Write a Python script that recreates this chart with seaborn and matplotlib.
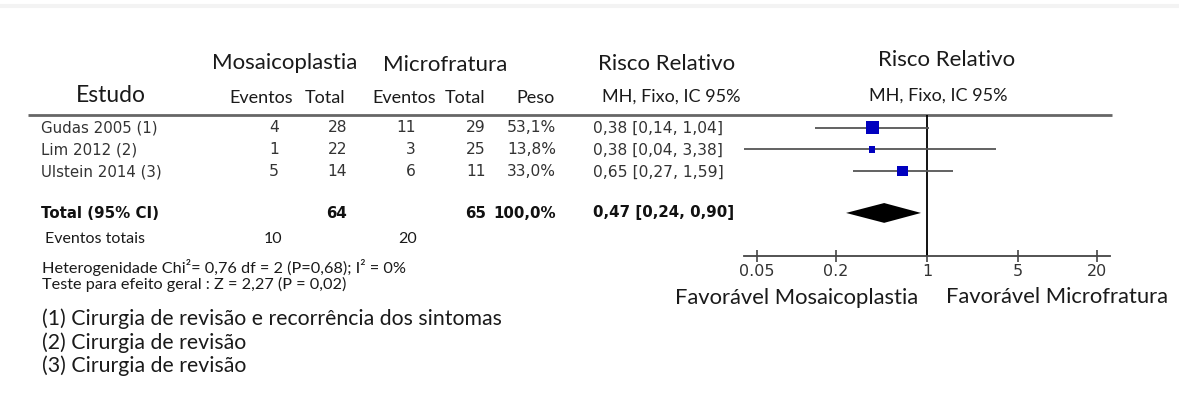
import numpy as np
import pandas as pd
import matplotlib
matplotlib.use("Agg")
import matplotlib.pyplot as plt
import seaborn as sns

sns.set_theme(style="white")
plt.rcParams["font.family"] = ["DejaVu Sans"]

# ---- data -------------------------------------------------------------
studies = ["Gudas 2005 (1)", "Lim 2012 (2)", "Ulstein 2014 (3)"]
mosaic_events = [4, 1, 5]
mosaic_total = [28, 22, 14]
micro_events = [11, 3, 6]
micro_total = [29, 25, 11]
weights = [53.1, 13.8, 33.0]
rr = [0.38, 0.38, 0.65]
ci_low = [0.14, 0.04, 0.27]
ci_high = [1.04, 3.38, 1.59]

total_mosaic = 64
total_micro = 65
total_weight = 100.0
total_rr = 0.47
total_low = 0.24
total_high = 0.90
events_mosaic_sum = 10
events_micro_sum = 20

ticks = [0.05, 0.2, 1, 5, 20]
tick_labels = ["0.05", "0.2", "1", "5", "20"]

footnotes = [
    "(1) Cirurgia de revisão e recorrência dos sintomas",
    "(2) Cirurgia de revisão",
    "(3) Cirurgia de revisão",
]
heterogeneity = "Heterogenidade Chi²= 0,76 df = 2 (P=0,68); I² = 0%"
overall_test = "Teste para efeito geral : Z = 2,27 (P = 0,02)"


def pct(v):
    return f"{v:.1f}".replace(".", ",") + "%"


def ci_text(m, lo, hi):
    f = lambda v: f"{v:.2f}".replace(".", ",")
    return f"{f(m)} [{f(lo)}, {f(hi)}]"


# ---- figure -------------------------------------------------------------
W, H = 1179, 400
fig = plt.figure(figsize=(W / 100, H / 100), dpi=100)
fig.patch.set_facecolor("white")

# text layer in pixel units
tx = fig.add_axes([0, 0, 1, 1])
tx.set_xlim(0, W)
tx.set_ylim(H, 0)
tx.axis("off")

HEAD = ["Lato", "DejaVu Sans"]
BODY = ["DejaVu Sans"]
ink = "#1a1a1a"
body_ink = "#333333"

# faint rule at the very top
tx.plot([0, W], [6, 6], color="#f3f3f3", lw=3)

# column headings
big = dict(va="center", fontsize=16, family=HEAD, color=ink)
tx.text(285, 63, "Mosaicoplastia", ha="center", **big)
tx.text(445, 65, "Microfratura", ha="center", **big)
tx.text(667, 64, "Risco Relativo", ha="center", **big)
tx.text(947, 60, "Risco Relativo", ha="center", **big)
tx.text(111, 96, "Estudo", ha="center", va="center", fontsize=16.5, family=HEAD, color=ink)

sub = dict(va="center", fontsize=13, family=HEAD, color=ink)
tx.text(261, 98, "Eventos", ha="center", **sub)
tx.text(325, 98, "Total", ha="center", **sub)
tx.text(404, 98, "Eventos", ha="center", **sub)
tx.text(465, 98, "Total", ha="center", **sub)
tx.text(535, 98, "Peso", ha="center", **sub)
tx.text(671, 97, "MH, Fixo, IC 95%", ha="center", **sub)
tx.text(938, 96, "MH, Fixo, IC 95%", ha="center", **sub)

# heading rule
tx.plot([28, 1112], [115, 115], color="#666666", lw=2.0, solid_capstyle="butt")

# study rows
row_y = [128, 150, 172]
rs = dict(va="center", fontsize=10.8, family=BODY, color=body_ink)
ns = dict(va="center", fontsize=11.2, family=BODY, color=body_ink)
for i, y in enumerate(row_y):
    tx.text(41, y, studies[i], ha="left", **rs)
    tx.text(279, y, str(mosaic_events[i]), ha="right", **ns)
    tx.text(347, y, str(mosaic_total[i]), ha="right", **ns)
    tx.text(416, y, str(micro_events[i]), ha="right", **ns)
    tx.text(486, y, str(micro_total[i]), ha="right", **ns)
    tx.text(556, y, pct(weights[i]), ha="right", **ns)
    tx.text(593, y, ci_text(rr[i], ci_low[i], ci_high[i]), ha="left", **ns)

# pooled row
ty = 213
bs = dict(va="center", fontsize=10.8, family=BODY, color="#111111", fontweight="bold")
tx.text(41, ty, "Total (95% CI)", ha="left", **bs)
tx.text(347, ty, str(total_mosaic), ha="right", **bs)
tx.text(486, ty, str(total_micro), ha="right", **bs)
tx.text(556, ty, pct(total_weight), ha="right", **bs)
tx.text(593, ty, ci_text(total_rr, total_low, total_high), ha="left", **bs)

es = dict(va="center", fontsize=11.5, family=HEAD, color=ink)
tx.text(45, 239, "Eventos totais", ha="left", **es)
tx.text(282, 239, str(events_mosaic_sum), ha="right", **es)
tx.text(417, 239, str(events_micro_sum), ha="right", **es)

tx.text(42, 267, heterogeneity, ha="left", va="center", fontsize=11.7, family=HEAD, color=ink)
tx.text(42, 284, overall_test, ha="left", va="center", fontsize=11.7, family=HEAD, color=ink)
for j, note in enumerate(footnotes):
    tx.text(42, 319 + 23.5 * j, note, ha="left", va="center", fontsize=15.3, family=HEAD, color=ink)

# ---- forest panel ---------------------------------------------------------
x0, x1 = 744, 1110
y_top, y_bot = 115, 256
ax = fig.add_axes([x0 / W, 1 - y_bot / H, (x1 - x0) / W, (y_bot - y_top) / H])
ax.set_facecolor("none")
ax.set_xscale("log")
ax.set_xlim(0.0397, 25.2)

rows = [0, 1, 2]
total_row = 3.95
ax.set_ylim(5.95, -0.6)

df = pd.DataFrame({"rr": rr, "row": rows, "w": weights})
ax.hlines(rows, ci_low, ci_high, color="#555555", lw=1.3, zorder=2)
sns.scatterplot(data=df, x="rr", y="row", size="w", sizes=(22, 88), size_norm=(min(weights), max(weights)),
                marker="s", color="#0000bf", edgecolor="none", legend=False, ax=ax, zorder=3)

# pooled diamond
dh = 0.46
ax.fill([total_low, total_rr, total_high, total_rr],
        [total_row, total_row - dh, total_row, total_row + dh],
        color="black", lw=0, zorder=3)

ax.axvline(1, color="black", lw=1.3, zorder=1)

for s in ["top", "right", "left"]:
    ax.spines[s].set_visible(False)
ax.spines["bottom"].set_color("#444444")
ax.spines["bottom"].set_linewidth(1.3)
ax.set_xticks(ticks)
ax.set_xticklabels(tick_labels)
ax.xaxis.set_minor_locator(matplotlib.ticker.NullLocator())
ax.tick_params(axis="x", direction="inout", length=8, width=1.2, color="#444444",
               labelsize=11.5, labelcolor="#333333", pad=2, bottom=True)
ax.set_yticks([])
ax.set_xlabel("")
ax.set_ylabel("")

fav = dict(va="center", fontsize=15.8, family=HEAD, color=ink)
tx.text(797, 298, "Favorável Mosaicoplastia", ha="center", **fav)
tx.text(1057, 297, "Favorável Microfratura", ha="center", **fav)

fig.savefig("out.png", dpi=100, facecolor="white")
